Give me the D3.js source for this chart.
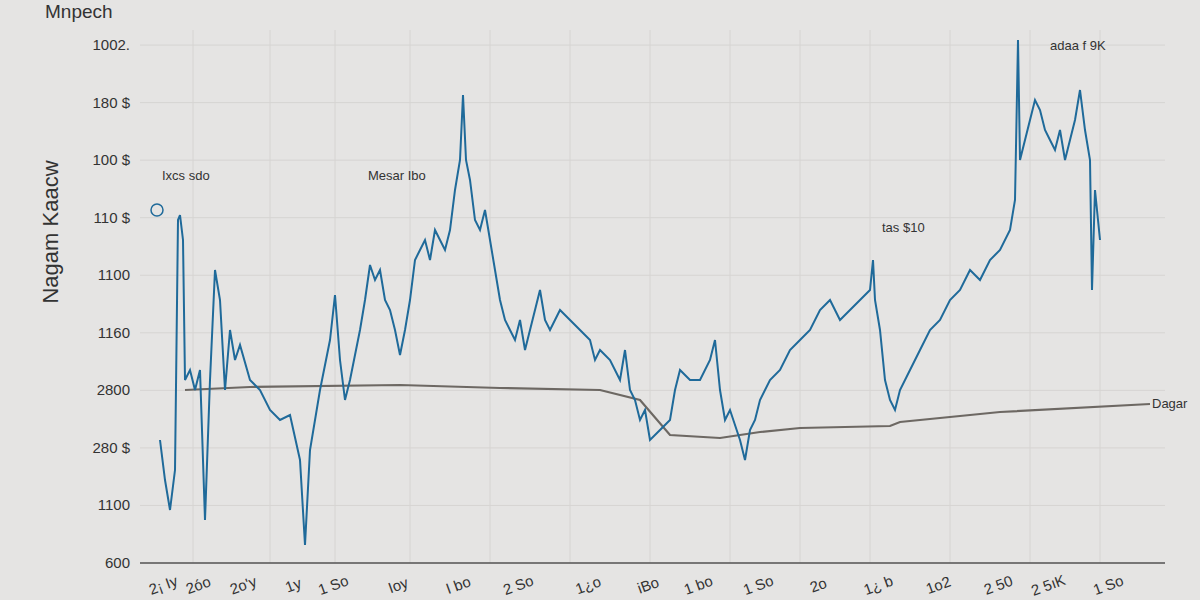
<!DOCTYPE html>
<html><head><meta charset="utf-8">
<script src="https://cdn.jsdelivr.net/npm/d3@7"></script>
<style>body{margin:0;background:#e5e4e3;}svg{display:block;font-family:"Liberation Sans",Arial,sans-serif;}</style>
</head><body>
<svg id="c" width="1200" height="600"></svg>
<script>
const yTickLabels = ["600","1100","280 $","2800","1160","1100","110 $","100 $","180 $","1002."];
const xTickLabels = ["2¡ Iy","2óo","2o'y","1y","1 So","Ioy","I bo","2 So","1¿o","iBo","1 bo","1 So","2o","1¿ b","1o2","2 50","2 5ıK","1 So"];
const xTickPos = [165,200,245,295,335,400,460,520,590,650,700,760,820,880,940,1000,1050,1110];
// blue series: day and value
const blueX = [160,165,170,175,178,180,183,185,190,195,200,205,210,215,220,225,230,235,240,250,260,270,280,290,300,305,310,320,330,335,340,345,350,360,365,370,375,380,385,390,395,400,405,410,415,420,425,430,435,440,445,450,455,460,463,466,470,475,480,485,490,495,500,505,510,515,520,525,530,535,540,545,550,560,570,580,590,595,600,610,620,625,630,635,640,645,650,660,670,675,680,690,700,710,715,720,725,730,740,745,750,755,760,770,780,790,800,810,820,830,840,850,860,870,873,875,880,885,890,895,900,910,920,930,940,950,960,970,980,990,1000,1010,1015,1018,1020,1025,1030,1035,1040,1045,1050,1055,1060,1065,1070,1075,1080,1085,1090,1092,1095,1100];
const blueV = [160,120,90,130,380,385,360,220,230,210,230,80,220,330,300,210,270,240,255,220,210,190,180,185,140,55,150,210,260,305,240,200,220,270,300,335,320,330,300,290,270,245,270,300,340,350,360,340,370,360,350,370,410,440,505,440,420,380,370,390,360,330,300,280,270,260,280,250,270,290,310,280,270,290,280,270,260,240,250,240,220,250,210,200,180,190,160,170,180,210,230,220,220,240,260,210,180,190,160,140,170,180,200,220,230,250,260,270,290,300,280,290,300,310,340,300,270,220,200,190,210,230,250,270,280,300,310,330,320,340,350,370,400,560,440,460,480,500,490,470,460,450,470,440,460,480,510,470,440,310,410,360];
const grayX = [185,250,400,500,600,640,670,720,760,800,890,900,1000,1150];
const grayV = [210,213,215,212,210,200,165,162,168,172,174,178,188,196];
const annotations = [
  {t:"Ixcs sdo", x:162, v:420},{t:"Mesar Ibo", x:368, v:420},
  {t:"tas $10", x:882, v:368},{t:"adaa f 9K", x:1050, v:550},{t:"Dagar", x:1152, v:192}
];

const svg = d3.select("#c");
const x = d3.scaleLinear().domain([140,1165]).range([140,1165]);
const y = d3.scaleLinear().domain([37,555]).range([563,45]);
const tickVals = d3.range(10).map(i=>37+i*57.55);

svg.append("rect").attr("width",1200).attr("height",600).attr("fill","#e5e4e3");
svg.append("g").selectAll("line").data(tickVals).join("line")
  .attr("x1",140).attr("x2",1165).attr("y1",d=>y(d)).attr("y2",d=>y(d)).attr("stroke","#d6d4d2");
svg.append("g").selectAll("line").data([193,270,335,410,490,570,650,730,800,870,950,1030,1100]).join("line")
  .attr("x1",d=>x(d)).attr("x2",d=>x(d)).attr("y1",30).attr("y2",563).attr("stroke","#d6d4d2");
svg.append("g").selectAll("text").data(yTickLabels).join("text")
  .attr("x",130).attr("y",(d,i)=>y(tickVals[i])+5).attr("text-anchor","end")
  .attr("font-size",15).attr("fill","#333").text(d=>d);
svg.append("line").attr("x1",140).attr("x2",1165).attr("y1",563).attr("y2",563).attr("stroke","#555").attr("stroke-width",1.5);
svg.append("g").selectAll("text").data(xTickLabels).join("text")
  .attr("transform",(d,i)=>`translate(${x(xTickPos[i])},590) rotate(-20)`)
  .attr("text-anchor","middle").attr("font-size",15).attr("fill","#333").text(d=>d);
svg.append("text").attr("x",45).attr("y",18).attr("font-size",19).attr("fill","#333").text("Mnpech");
svg.append("text").attr("transform","translate(58,232) rotate(-90)").attr("text-anchor","middle")
  .attr("font-size",22).attr("fill","#333").text("Nagam Kaacw");
const line = d3.line().x(d=>x(d[0])).y(d=>y(d[1]));
svg.append("path").datum(grayX.map((d,i)=>[d,grayV[i]])).attr("d",line)
  .attr("fill","none").attr("stroke","#6d6863").attr("stroke-width",2.2);
svg.append("path").datum(blueX.map((d,i)=>[d,blueV[i]])).attr("d",line)
  .attr("fill","none").attr("stroke","#1f6a9a").attr("stroke-width",2);
svg.append("circle").attr("cx",x(157)).attr("cy",y(390)).attr("r",6).attr("fill","none").attr("stroke","#1f6a9a").attr("stroke-width",1.5);
svg.append("g").selectAll("text").data(annotations).join("text")
  .attr("x",d=>x(d.x)).attr("y",d=>y(d.v)).attr("font-size",13).attr("fill","#333").text(d=>d.t);
</script>
</body></html>
